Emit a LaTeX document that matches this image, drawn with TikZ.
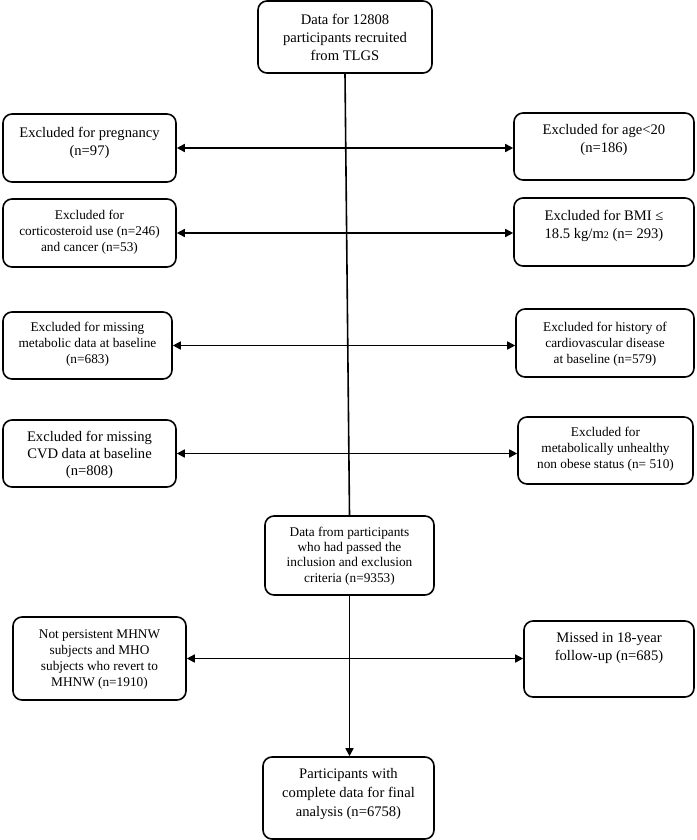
\documentclass[tikz,border=0pt]{standalone}
\usepackage{fontspec}
\setmainfont{Liberation Serif}
\usetikzlibrary{arrows.meta}
\begin{document}
\begin{tikzpicture}[x=1pt,y=-1pt,
  >={Triangle[length=8pt,width=8pt]},
  box/.style={draw,line width=1.6pt,rounded corners=9pt,inner sep=0pt},
  big/.style={align=center,inner sep=0pt,font=\fontsize{14.6}{18}\selectfont},
  small/.style={align=center,inner sep=0pt,font=\fontsize{13.3}{16}\selectfont},
  flow/.style={line width=1.6pt,<->}]
\useasboundingbox (0,0) rectangle (696,840);

% boxes
\node[box,minimum width=174pt,minimum height=72pt] (top) at (345,37) {};
\node[box,minimum width=173pt,minimum height=68pt] (preg) at (89.5,148) {};
\node[box,minimum width=180pt,minimum height=67pt] (age) at (604,146.5) {};
\node[box,minimum width=173pt,minimum height=68pt] (cort) at (89.5,233) {};
\node[box,minimum width=180pt,minimum height=68pt] (bmi) at (604,232) {};
\node[box,minimum width=169pt,minimum height=67pt] (meta) at (87.5,345.5) {};
\node[box,minimum width=178pt,minimum height=68pt] (hist) at (605,343) {};
\node[box,minimum width=173pt,minimum height=67pt] (cvd) at (89.5,453.5) {};
\node[box,minimum width=175pt,minimum height=67pt] (unh) at (605.5,450.5) {};
\node[box,minimum width=169pt,minimum height=79pt] (mid) at (349.5,555.5) {};
\node[box,minimum width=173pt,minimum height=83pt] (notp) at (99.5,658.5) {};
\node[box,minimum width=170pt,minimum height=76pt] (miss) at (609,659) {};
\node[box,minimum width=171pt,minimum height=82pt] (final) at (348.5,798) {};

% texts
\node[big] (top-t) at (345,37) {Data for 12808\\participants recruited\\from TLGS};
\node[big] (preg-t) at (89.5,143) {Excluded for pregnancy\\(n=97)};
\node[big] (age-t) at (604,139.5) {Excluded for age<20\\(n=186)};
\node[small] (cort-t) at (89.5,232.5) {Excluded for\\corticosteroid use (n=246)\\and cancer (n=53)};
\node[big] (bmi-t) at (604,226) {Excluded for BMI ≤\\18.5 kg/m{\fontsize{10}{12}\selectfont 2} (n= 293)};
\node[small] (meta-t) at (87.5,344.5) {Excluded for missing\\metabolic data at baseline\\(n=683)};
\node[small] (hist-t) at (605,344) {Excluded for history of\\cardiovascular disease\\at baseline (n=579)};
\node[big,font=\fontsize{14.6}{17}\selectfont] (cvd-t) at (89.5,454.5) {Excluded for missing\\CVD data at baseline\\(n=808)};
\node[small] (unh-t) at (605.5,449.5) {Excluded for\\metabolically unhealthy\\non obese status (n= 510)};
\node[small,font=\fontsize{13.3}{15.3}\selectfont] (mid-t) at (349.5,556) {Data from participants\\who had passed the\\inclusion and exclusion\\criteria (n=9353)};
\node[small] (notp-t) at (99.5,659.5) {Not persistent MHNW\\subjects and MHO\\subjects who revert to\\MHNW (n=1910)};
\node[big] (miss-t) at (609,648) {Missed in 18-year\\follow-up (n=685)};
\node[big,font=\fontsize{14.6}{18.5}\selectfont] (final-t) at (348.5,794) {Participants with\\complete data for final\\analysis (n=6758)};

% connectors
\draw[line width=1.6pt] (top.south) -- (mid.north);
\draw[flow] (preg.east) -- (preg.east -| age.west);
\draw[flow] (cort.east) -- (cort.east -| bmi.west);
\draw[flow] (meta.east) -- (meta.east -| hist.west);
\draw[flow] (cvd.east) -- (cvd.east -| unh.west);
\draw[flow] (notp.east) -- (notp.east -| miss.west);
\draw[line width=1.6pt,->] (mid.south) -- (mid.south |- final.north);
\end{tikzpicture}
\end{document}
